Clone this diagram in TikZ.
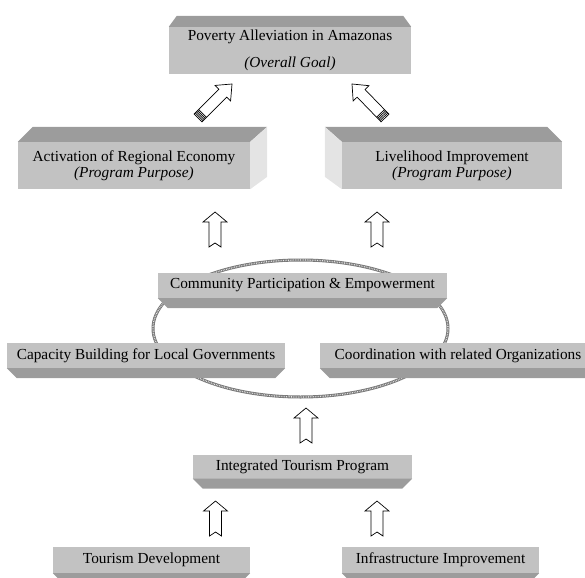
\documentclass[tikz,border=0pt]{standalone}
\usepackage{fontspec}
\setmainfont{Liberation Serif}
\usetikzlibrary{calc}
\definecolor{FaceGrey}{HTML}{C2C2C2}
\definecolor{DarkGrey}{HTML}{9C9C9C}
\definecolor{SideGrey}{HTML}{E4E4E4}
\definecolor{RingGrey}{HTML}{777777}

\tikzset{
  face/.style={fill=FaceGrey, inner sep=0pt, align=center, font=\fontsize{15.3}{18}\selectfont},
  darkface/.style={fill=DarkGrey},
  lightface/.style={fill=SideGrey},
  notcharrow/.style={draw=black, fill=white, line width=.7pt, line join=miter,
    to path={($(\tikztostart)!6pt!90:(\tikztotarget)$)
      -- ($(\tikztostart)!4pt!(\tikztotarget)$)
      -- ($(\tikztostart)!6pt!-90:(\tikztotarget)$)
      -- ($(\tikztotarget)!10pt!(\tikztostart)!6pt!-90:(\tikztotarget)$)
      -- ($(\tikztotarget)!10pt!(\tikztostart)!12pt!-90:(\tikztotarget)$)
      -- (\tikztotarget)
      -- ($(\tikztotarget)!10pt!(\tikztostart)!12pt!90:(\tikztotarget)$)
      -- ($(\tikztotarget)!10pt!(\tikztostart)!6pt!90:(\tikztotarget)$)
      -- cycle}},
  tubearrow/.style={draw=black, fill=white, line width=.7pt, line join=miter,
    to path={($(\tikztostart)!5.5pt!90:(\tikztotarget)$)
      -- ($(\tikztostart)!5.5pt!-90:(\tikztotarget)$)
      -- ($(\tikztotarget)!13pt!(\tikztostart)!5.5pt!-90:(\tikztotarget)$)
      -- ($(\tikztotarget)!13pt!(\tikztostart)!11pt!-90:(\tikztotarget)$)
      -- (\tikztotarget)
      -- ($(\tikztotarget)!13pt!(\tikztostart)!11pt!90:(\tikztotarget)$)
      -- ($(\tikztotarget)!13pt!(\tikztostart)!5.5pt!90:(\tikztotarget)$)
      -- cycle
      ($(\tikztostart)!1.6pt!(\tikztotarget)!5.5pt!90:(\tikztotarget)$) -- ($(\tikztostart)!1.6pt!(\tikztotarget)!5.5pt!-90:(\tikztotarget)$)
      ($(\tikztostart)!3.2pt!(\tikztotarget)!5.5pt!90:(\tikztotarget)$) -- ($(\tikztostart)!3.2pt!(\tikztotarget)!5.5pt!-90:(\tikztotarget)$)
      ($(\tikztostart)!4.8pt!(\tikztotarget)!5.5pt!90:(\tikztotarget)$) -- ($(\tikztostart)!4.8pt!(\tikztotarget)!5.5pt!-90:(\tikztotarget)$)
      ($(\tikztostart)!6.4pt!(\tikztotarget)!5.5pt!90:(\tikztotarget)$) -- ($(\tikztostart)!6.4pt!(\tikztotarget)!5.5pt!-90:(\tikztotarget)$)}}
}

\begin{document}
\begin{tikzpicture}[x=1pt,y=-1pt]
  \clip (0,0) rectangle (585,577);

  % the ring behind the three core boxes
  \draw[line width=3pt, RingGrey] (300.5,328.5) ellipse [x radius=147.5pt, y radius=68.5pt];
  \draw[line width=1.3pt, white!80!gray, dash pattern=on .7pt off 1pt] (300.5,328.5) ellipse [x radius=147.5pt, y radius=68.5pt];

  % goal and purposes
  \node[face, minimum width=242pt, minimum height=47pt] (goal) at (290,50.5)
    {Poverty Alleviation in Amazonas\\[9pt]\textit{(Overall Goal)}};
  \node[face, minimum width=232pt, minimum height=47pt] (economy) at (134,165.5)
    {Activation of Regional Economy\\[-2pt]\textit{(Program Purpose)}};
  \node[face, minimum width=220pt, minimum height=47pt] (livelihood) at (452,165.5)
    {Livelihood Improvement\\[-2pt]\textit{(Program Purpose)}};

  \fill[darkface] (goal.north west) -- ++(8,-11) -- ($(goal.north east)+(-8,-11)$) -- (goal.north east) -- cycle;
  \fill[darkface] (economy.north west) -- ++(15,-15) -- ($(economy.north east)+(17,-15)$) -- (economy.north east) -- cycle;
  \fill[lightface] (economy.north east) -- ++(17,-15) -- ++(0,50) -- (economy.south east) -- cycle;
  \fill[darkface] (livelihood.north east) -- ++(-15,-15) -- ($(livelihood.north west)+(-17,-15)$) -- (livelihood.north west) -- cycle;
  \fill[lightface] (livelihood.north west) -- ++(-17,-15) -- ++(0,50) -- (livelihood.south west) -- cycle;

  % core, program and components
  \node[face, minimum width=289pt, minimum height=25pt] (community) at (302.5,285.5) {Community Participation \& Empowerment};
  \node[face, minimum width=278pt, minimum height=25pt] (capacity) at (146,355.5) {Capacity Building for Local Governments};
  \node[face, minimum width=276pt, minimum height=25pt] (coordination) at (458,355.5) {Coordination with related Organizations};
  \node[face, minimum width=219pt, minimum height=24pt] (integrated) at (302.5,466.5) {Integrated Tourism Program};
  \node[face, minimum width=197pt, minimum height=26pt] (tourism) at (151.5,560) {Tourism Development};
  \node[face, minimum width=197pt, minimum height=26pt] (infra) at (440.5,560) {Infrastructure Improvement};

  \foreach \n in {community,capacity,coordination,integrated,tourism,infra}
    \fill[darkface] (\n.south west) -- (\n.south east) -- ++(-10,10) -- ($(\n.south west)+(10,10)$) -- cycle;

  % arrow ends
  \coordinate (econTail) at (198,118);
  \coordinate (econTip) at (232,84);
  \coordinate (liveTail) at (385,118);
  \coordinate (liveTip) at (352,84);
  \coordinate (coreTailA) at (215,247);
  \coordinate (coreTipA) at (215,212);
  \coordinate (coreTailB) at (377,247);
  \coordinate (coreTipB) at (377,212);
  \coordinate (progTail) at (306,443);
  \coordinate (progTip) at (306,408);
  \coordinate (tourTail) at (215.5,536);
  \coordinate (tourTip) at (215.5,501);
  \coordinate (infraTail) at (377,536);
  \coordinate (infraTip) at (377,501);

  \draw[tubearrow] (econTail) to (econTip);
  \draw[tubearrow] (liveTail) to (liveTip);
  \draw[notcharrow] (coreTailA) to (coreTipA);
  \draw[notcharrow] (coreTailB) to (coreTipB);
  \draw[notcharrow] (progTail) to (progTip);
  \draw[notcharrow] (tourTail) to (tourTip);
  \draw[notcharrow] (infraTail) to (infraTip);
\end{tikzpicture}
\end{document}
